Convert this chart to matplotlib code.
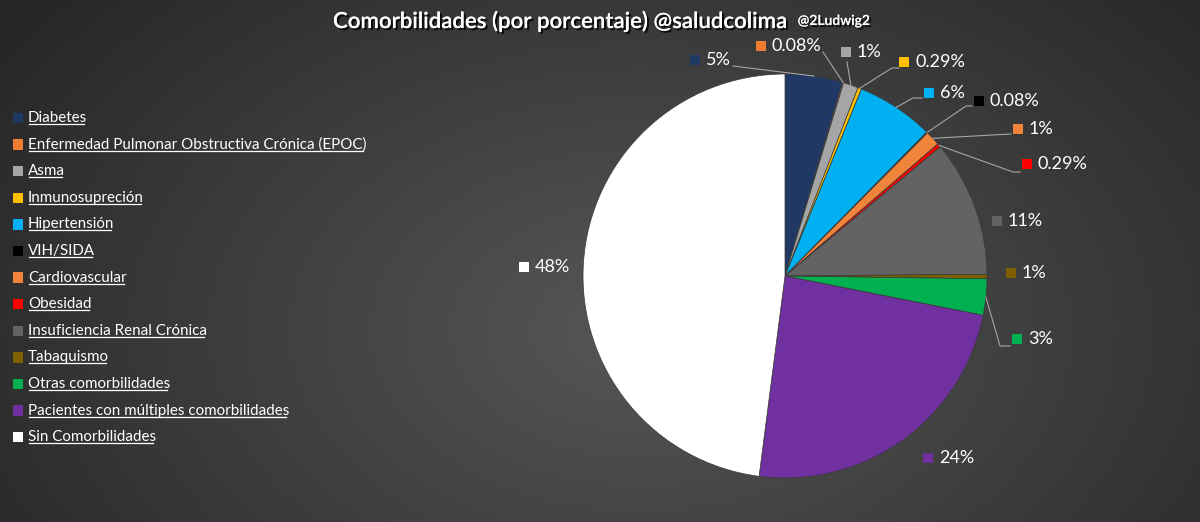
import numpy as np
import matplotlib
matplotlib.use("Agg")
import matplotlib.pyplot as plt
import matplotlib.patheffects as pe
from matplotlib.lines import Line2D

W, H = 1200, 522

categories = ["Diabetes", "Enfermedad Pulmonar Obstructiva Crónica (EPOC)", "Asma",
              "Inmunosupreción", "Hipertensión", "VIH/SIDA", "Cardiovascular", "Obesidad",
              "Insuficiencia Renal Crónica", "Tabaquismo", "Otras comorbilidades",
              "Pacientes con múltiples comorbilidades", "Sin Comorbilidades"]
values = [4.6, 0.08, 1.2, 0.29, 6.2, 0.08, 1.2, 0.29, 10.9, 0.35, 2.9, 23.9, 47.9]
pct_labels = ["5%", "0.08%", "1%", "0.29%", "6%", "0.08%", "1%", "0.29%",
              "11%", "1%", "3%", "24%", "48%"]
colors = ["#1f3864", "#ed7d31", "#a5a5a5", "#ffc000", "#00b0f0", "#000000", "#f0843a",
          "#ff0000", "#636363", "#7f6000", "#00b050", "#7030a0", "#ffffff"]

# label placement (pixel coords of marker square centre)
label_pos = [(695, 60), (761, 46), (846, 52), (904, 62), (929, 93), (979, 101),
             (1018, 129), (1027, 164), (997, 221), (1011, 273), (1017, 339),
             (928, 458), (524, 267)]
leader_start = [[(733, 66)], [(823, 52)], [(847, 62)], [(899, 68), (892, 68)],
                [(922, 98), (913, 98)], [(972, 106), (966, 106)], [(1011, 134)],
                [(1020, 172), (1013, 172)], None, None, [(1010, 346), (1000, 346)],
                None, None]

cx, cy, R = 785, 276, 202

fig = plt.figure(figsize=(12, 5.22), dpi=100)
ax = fig.add_axes([0, 0, 1, 1])

# radial background
yy, xx = np.mgrid[0:H, 0:W]
d = np.sqrt(((xx - 640) / 780.0) ** 2 + ((yy - 330) / 520.0) ** 2)
d = np.clip(d, 0, 1)
g = 0.34 - 0.19 * d
bg = np.dstack([g, g, g])
ax.imshow(bg, extent=(0, W, 0, H), origin="upper", zorder=0, aspect="auto")

wedges, _ = ax.pie(values, colors=colors, startangle=90, counterclock=False,
                   center=(cx, H - cy), radius=R,
                   wedgeprops=dict(linewidth=0.5, edgecolor="#3a3a3a"))
for w in wedges:
    w.set_zorder(2)

ax.set_xlim(0, W)
ax.set_ylim(0, H)
ax.set_aspect("auto")
ax.axis("off")

font = "Lato"
for i, w in enumerate(wedges):
    px, py = label_pos[i]
    ax.scatter(px, H - py, marker="s", s=60, color=colors[i], edgecolors="none", zorder=4)
    ax.text(px + 11, H - py, pct_labels[i], color="white", fontsize=13, family=font,
            va="center", ha="left", zorder=4)
    if leader_start[i] is not None:
        mid = np.deg2rad((w.theta1 + w.theta2) / 2)
        ex, ey = cx + R * np.cos(mid), cy - R * np.sin(mid)
        pts = leader_start[i] + [(ex, ey)]
        ax.plot([p[0] for p in pts], [H - p[1] for p in pts],
                color="#a6a6a6", lw=0.8, zorder=3)

# legend
legend_texts = []
for i, name in enumerate(categories):
    ly = 118 + i * 26.6
    ax.scatter(18, H - ly, marker="s", s=55, color=colors[i], edgecolors="none", zorder=4)
    t = ax.text(28, H - ly, name, color="white", fontsize=10.9, family=font,
                va="center", ha="left", zorder=4)
    legend_texts.append(t)

shadow = [pe.withSimplePatchShadow(offset=(1.5, -1.5), shadow_rgbFace="black", alpha=0.8),
          pe.Normal()]
t1 = ax.text(333, H - 21, "Comorbilidades (por porcentaje) @saludcolima", color="white",
             fontsize=16, fontweight="semibold", family=font, ha="left", va="center",
             zorder=5, path_effects=shadow)
fig.canvas.draw()
bb = t1.get_window_extent()
ax.text(bb.x1 + 8, H - 21, "@2Ludwig2", color="white", fontsize=10, fontweight="semibold",
        family=font, ha="left", va="center", zorder=5, path_effects=shadow)

# underline legend entries
fig.canvas.draw()
for t in legend_texts:
    b = t.get_window_extent()
    y = b.y0 + 1
    fig.add_artist(Line2D([b.x0 + 1, b.x1 - 3], [y, y], transform=None,
                          color="white", lw=0.9))

fig.savefig("out.png", dpi=100)
